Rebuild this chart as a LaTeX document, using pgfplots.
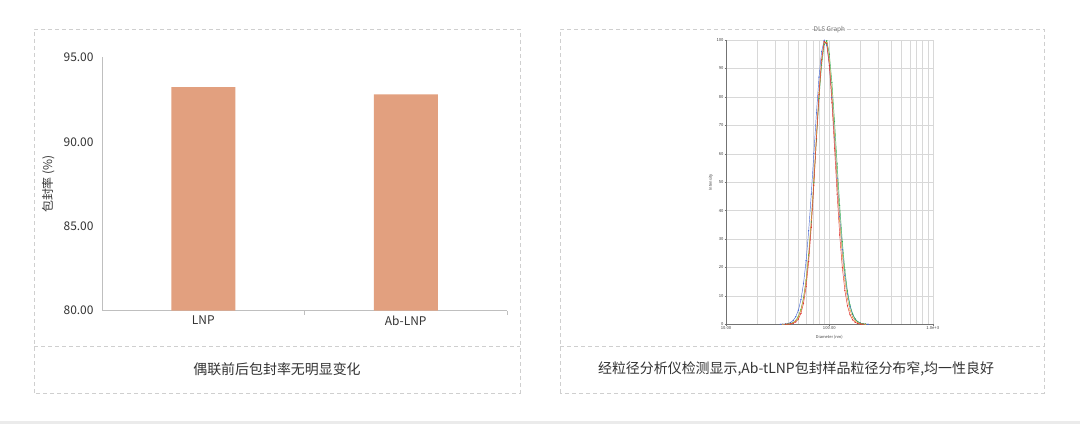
\documentclass[border=0pt]{standalone}
\usepackage{fontspec}
\setmainfont{Noto Sans CJK SC}
\usepackage{pgfplots}
\pgfplotsset{compat=1.18}
\pgfplotsset{/pgf/number format/assume math mode=true}

\definecolor{barfill}{HTML}{E2A07F}
\definecolor{txt}{HTML}{333333}
\definecolor{dashc}{HTML}{CFCFCF}
\definecolor{axisc}{HTML}{BFBFBF}
\definecolor{gridc}{HTML}{D8D8D8}
\definecolor{dlsblue}{HTML}{4A6BD6}
\definecolor{dlsred}{HTML}{E0302C}
\definecolor{dlsgreen}{HTML}{2EAF4E}
\definecolor{dlsorange}{HTML}{E3A23A}

\begin{document}
\begin{tikzpicture}
\useasboundingbox (0bp,0bp) rectangle (1080bp,424bp);
\fill[white] (0bp,0bp) rectangle (1080bp,424bp);
\fill[black!8] (0bp,0bp) rectangle (1080bp,3bp);

% panel frames
\begin{scope}[dashc, line width=0.8bp, dash pattern=on 4bp off 3bp]
\draw (34bp,31bp) rectangle (520bp,395bp);
\draw (34bp,77.5bp) -- (520bp,77.5bp);
\draw (560bp,31bp) rectangle (1044bp,395bp);
\draw (560bp,77.5bp) -- (1044bp,77.5bp);
\end{scope}

\node[text=txt, font=\fontsize{14}{16}\selectfont] at (277bp,55bp) {偶联前后包封率无明显变化};
\node[text=txt, font=\fontsize{14}{16}\selectfont] at (796bp,55bp) {经粒径分析仪检测显示,Ab-tLNP包封样品粒径分布窄,均一性良好};

% encapsulation bars
\begin{axis}[
  at={(102bp,113.3bp)}, anchor=south west,
  width=405bp, height=253.2bp, scale only axis,
  xmin=-0.5, xmax=1.5, ymin=80, ymax=95,
  axis x line*=bottom, axis y line*=left,
  axis line style={axisc, line width=0.8bp, -},
  xtick={0,1}, xticklabels={LNP,Ab-LNP},
  major tick length=0bp,
  extra x ticks={0.5,1.5}, extra x tick labels={},
  extra x tick style={major tick length=4bp, tick align=outside, tick style={axisc, line width=0.8bp}},
  ytick={80,85,90,95},
  ytick style={draw=none},
  every tick label/.append style={font=\fontsize{12}{14}\selectfont, text=txt},
  yticklabel style={xshift=-5bp, /pgf/number format/fixed, /pgf/number format/fixed zerofill, /pgf/number format/precision=2},
  xticklabel style={yshift=-2bp},
  ylabel={包封率 (\%)},
  ylabel style={font=\fontsize{12}{14}\selectfont, text=txt, at={(axis description cs:-0.133,0.5)}, anchor=center, rotate=0},
]
\addplot[ybar, bar width=64bp, fill=barfill, draw=none] coordinates {(0,93.25) (1,92.82)};
\end{axis}

% DLS graph
\begin{axis}[
  at={(726bp,99.7bp)}, anchor=south west,
  width=206.7bp, height=284.3bp, scale only axis,
  xmode=log, xmin=10, xmax=1000, ymin=0, ymax=100,
  xtick={10,100,1000}, xticklabels={10.00,100.00,1.0e+3},
  minor xtick={20,30,40,50,60,70,80,90,200,300,400,500,600,700,800,900},
  ytick={0,10,...,100},
  grid=both, grid style={gridc, line width=0.4bp}, minor grid style={gridc, line width=0.4bp},
  axis x line*=bottom, axis y line*=left,
  axis line style={black!55, line width=0.5bp, -},
  tick style={black!55, line width=0.4bp}, major tick length=1.5bp, minor tick length=0bp, tick align=outside,
  every tick label/.append style={font=\fontsize{4.2}{5}\selectfont, text=black!75, inner sep=0.8bp},
  title={DLS Graph},
  title style={font=\fontsize{6.5}{7}\selectfont, text=black!55, at={(axis description cs:0.5,1)}, anchor=south, inner sep=1bp},
  xlabel={Diameter (nm)}, ylabel={Intensity},
  xlabel style={font=\fontsize{4}{5}\selectfont, text=black!75, at={(axis description cs:0.5,-0.045)}, anchor=center},
  ylabel style={font=\fontsize{4}{5}\selectfont, text=black!75, at={(axis description cs:-0.073,0.5)}, anchor=center},
]
\addplot[dlsblue, line width=0.45bp, mark=*, mark size=0.35bp] coordinates {
(33.50,0.02) (35.48,0.05) (37.58,0.13) (39.81,0.30) (42.17,0.65) (44.67,1.36) (47.32,2.67) (50.12,4.95) (53.09,8.66) (56.23,14.33) (59.57,22.36) (63.10,32.92) (66.83,45.79) (70.79,60.05) (74.99,74.38) (79.43,86.94) (84.14,95.93) (89.13,99.88) (94.41,98.17) (100.0,91.06) (105.9,79.73) (112.2,65.89) (118.9,51.39) (125.9,37.84) (133.4,26.29) (141.3,17.24) (149.6,10.68) (158.5,6.23) (167.9,3.44) (177.8,1.79) (188.4,0.88) (199.5,0.41) (211.3,0.18) (223.9,0.07) (237.1,0.02)
};
\addplot[dlsgreen, line width=0.45bp, mark=*, mark size=0.35bp] coordinates {
(37.58,0.04) (39.81,0.11) (42.17,0.28) (44.67,0.64) (47.32,1.37) (50.12,2.76) (53.09,5.22) (56.23,9.29) (59.57,15.53) (63.10,24.39) (66.83,35.98) (70.79,49.85) (74.99,64.89) (79.43,79.36) (84.14,91.17) (89.13,98.39) (94.41,99.76) (100.0,95.01) (105.9,85.00) (112.2,71.44) (118.9,56.41) (125.9,41.85) (133.4,29.16) (141.3,19.09) (149.6,11.74) (158.5,6.78) (167.9,3.68) (177.8,1.88) (188.4,0.90) (199.5,0.40) (211.3,0.17) (223.9,0.07)
};
\addplot[dlsorange, line width=0.45bp, mark=*, mark size=0.35bp] coordinates {
(35.48,0.01) (37.58,0.03) (39.81,0.09) (42.17,0.24) (44.67,0.57) (47.32,1.26) (50.12,2.60) (53.09,5.05) (56.23,9.17) (59.57,15.60) (63.10,24.79) (66.83,36.89) (70.79,51.33) (74.99,66.90) (79.43,81.54) (84.14,92.99) (89.13,99.23) (94.41,99.10) (100.0,92.62) (105.9,80.98) (112.2,66.27) (118.9,50.73) (125.9,36.35) (133.4,24.37) (141.3,15.29) (149.6,8.97) (158.5,4.93) (167.9,2.53) (177.8,1.22) (188.4,0.55) (199.5,0.23) (211.3,0.09) (223.9,0.03)
};
\addplot[dlsred, line width=0.45bp, mark=*, mark size=0.35bp] coordinates {
(37.58,0.02) (39.81,0.05) (42.17,0.13) (44.67,0.34) (47.32,0.83) (50.12,1.84) (53.09,3.83) (56.23,7.39) (59.57,13.24) (63.10,22.05) (66.83,34.07) (70.79,48.92) (74.99,65.25) (79.43,80.84) (84.14,93.02) (89.13,99.41) (94.41,98.68) (100.0,90.98) (105.9,77.91) (112.2,61.97) (118.9,45.79) (125.9,31.41) (133.4,20.03) (141.3,11.86) (149.6,6.52) (158.5,3.33) (167.9,1.58) (177.8,0.70) (188.4,0.28) (199.5,0.11) (211.3,0.04)
};
\end{axis}
\end{tikzpicture}
\end{document}
